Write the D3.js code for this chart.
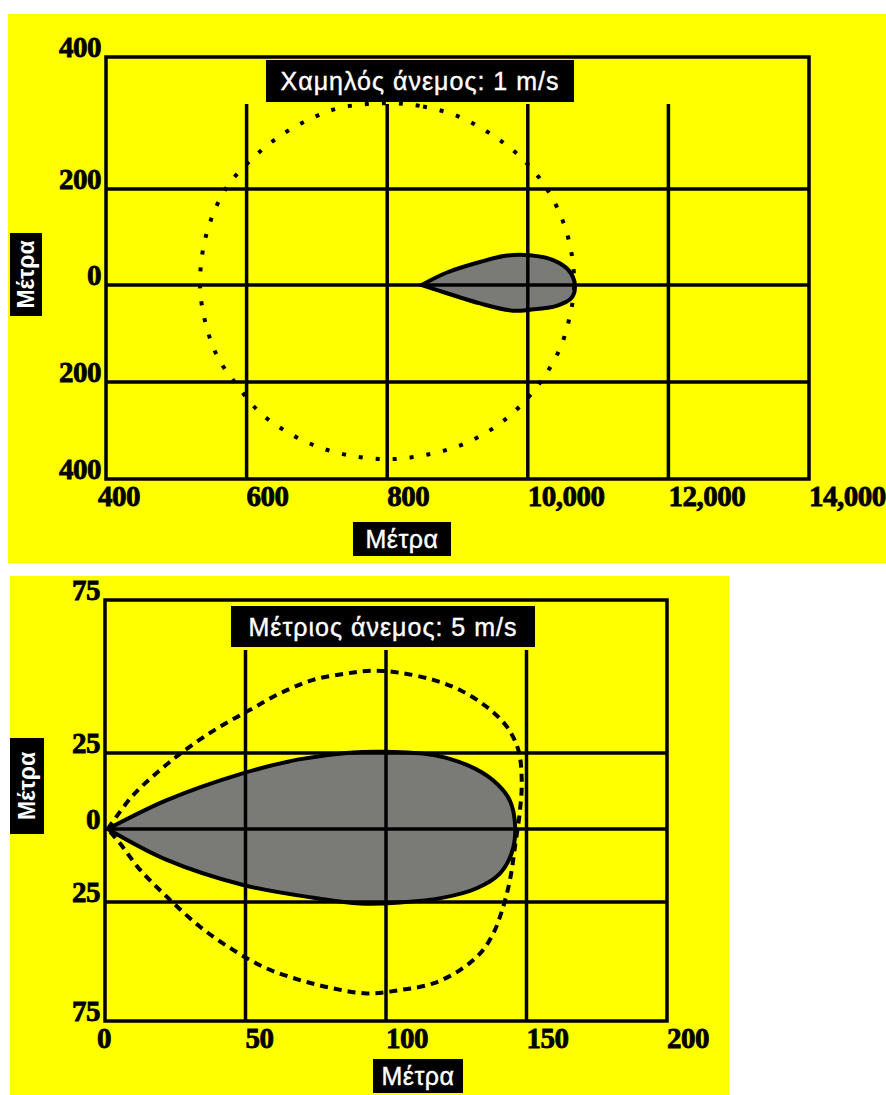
<!DOCTYPE html>
<html>
<head>
<meta charset="utf-8">
<script src="https://cdn.jsdelivr.net/npm/d3@7"></script>
<style>
  html, body { margin: 0; padding: 0; background: #ffffff; overflow: hidden; }
  svg { display: block; }
</style>
</head>
<body>
<svg id="chart" width="886" height="1095"></svg>
<script>
// ---------- Low wind (1 m/s) ----------
const lowTitle = "Χαμηλός άνεμος: 1 m/s";
const lowXTicks = [400, 600, 800, 1000, 1200, 1400];
const lowXTickLabels = ["400", "600", "800", "10,000", "12,000", "14,000"];
const lowYTicks = [400, 200, 0, -200, -400];
const lowYTickLabels = ["400", "200", "0", "200", "400"];
// plume outline: tip -> upper edge -> rounded end -> lower edge (metres)
const lowPlume = [
  [849, 0], [885, 26], [932, 48], [968, 61], [1003, 62], [1036, 52],
  [1058, 31], [1067, 0], [1062, -27], [1041, -43], [1003, -51],
  [979, -53], [932, -38], [885, -17], [849, 0]
];
// dotted envelope (closed contour, metres)
const lowEnvelope = [
  [800, 330], [851, 325], [901, 310], [945, 285], [985, 253], [1019, 213],
  [1044, 154], [1060, 83], [1066, 0], [1060, -63], [1046, -130],
  [1021, -194], [989, -250], [950, -296], [905, -330], [856, -350],
  [807, -359], [757, -354], [708, -337], [661, -306], [619, -263],
  [587, -208], [559, -149], [542, -81], [534, -9], [537, 65], [549, 135],
  [572, 203], [604, 242], [643, 277], [686, 304], [733, 323]
];

// ---------- Moderate wind (5 m/s) ----------
const modTitle = "Μέτριος άνεμος: 5 m/s";
const modXTicks = [0, 50, 100, 150, 200];
const modXTickLabels = ["0", "50", "100", "150", "200"];
const modYTicks = [75, 25, 0, -25, -75];
const modYTickLabels = ["75", "25", "0", "25", "75"];
const modPlume = [
  [1, 0], [22, 9.5], [49, 18.3], [69, 22.9], [87, 25.1], [99, 25.4],
  [117, 24.3], [129, 21], [138, 16.1], [144, 9.5], [146, 0],
  [144.7, -8.3], [140.6, -15.2], [132.3, -20.3], [120.4, -23.5],
  [105, -25.2], [90.7, -25.6], [75.3, -23.7], [49.2, -19.2], [22, -10.6], [1, 0]
];
const modEnvelope = [
  [1, 0], [9.5, 10.6], [19.6, 19.4], [30.2, 27.1], [40.9, 33.6], [51.6, 39.1],
  [62.3, 44.5], [74.1, 48.9], [86, 51], [95.5, 51.9], [105, 51.2],
  [116.8, 48.9], [126.3, 45.6], [135.8, 40.1], [143, 33.6], [147.1, 26],
  [148.3, 16.1], [147.7, 6.3], [145.9, -6.1], [144.1, -17.5], [141.7, -27],
  [138.2, -38.2], [133.5, -46.6], [126.3, -53.6], [116.8, -59.2], [105, -62],
  [93.1, -63.4], [81.2, -61.3], [69.4, -57.8], [57.5, -52.9], [45.7, -45.2],
  [33.8, -35.4], [22, -23.2], [12.5, -14], [5.3, -4.9], [1, 0]
];

const axisName = "Μέτρα";

const svg = d3.select("#chart");

function drawPanel(p) {
  const g = svg.append("g");
  const x = p.x, y = p.y;
  const [x0, x1] = [x(p.xTicks[0]), x(p.xTicks[p.xTicks.length - 1])];
  const [yTop, yBot] = [y(p.yTicks[0]), y(p.yTicks[p.yTicks.length - 1])];

  // yellow backdrop
  g.append("rect")
    .attr("x", p.bg[0]).attr("y", p.bg[1])
    .attr("width", p.bg[2]).attr("height", p.bg[3])
    .attr("fill", "#ffff00");

  // plume
  const plumeLine = d3.line()
    .x(d => x(d[0])).y(d => y(d[1]))
    .curve(d3.curveCatmullRom.alpha(0.5));
  g.append("path")
    .attr("d", plumeLine(p.plume) + "Z")
    .attr("fill", "#7a7b77");

  // grid: horizontal lines at inner y ticks
  g.selectAll(".hgrid")
    .data(p.yTicks.slice(1, -1))
    .join("line")
    .attr("x1", x0).attr("x2", x1)
    .attr("y1", d => y(d)).attr("y2", d => y(d))
    .attr("stroke", "#000").attr("stroke-width", 3.5);

  // grid: vertical lines at inner x ticks
  g.selectAll(".vgrid")
    .data(p.xTicks.slice(1, -1))
    .join("line")
    .attr("x1", d => x(d)).attr("x2", d => x(d))
    .attr("y1", p.vgridTop).attr("y2", yBot)
    .attr("stroke", "#000").attr("stroke-width", 3.5);

  // envelope
  const envLine = d3.line()
    .x(d => x(d[0])).y(d => y(d[1]))
    .curve(p.envClosed ? d3.curveCatmullRomClosed.alpha(0.5) : d3.curveCatmullRom.alpha(0.5));
  g.append("path")
    .attr("d", envLine(p.envelope))
    .attr("fill", "none")
    .attr("stroke", "#000")
    .attr("stroke-width", 4)
    .attr("stroke-dasharray", p.dash);

  // plume outline on top of the grid
  g.append("path")
    .attr("d", plumeLine(p.plume) + "Z")
    .attr("fill", "none")
    .attr("stroke", "#000")
    .attr("stroke-width", 4);

  // frame
  g.append("rect")
    .attr("x", x0).attr("y", yTop)
    .attr("width", x1 - x0).attr("height", yBot - yTop)
    .attr("fill", "none")
    .attr("stroke", "#000").attr("stroke-width", 3.5);

  // tick labels
  const tickFont = { family: "'Liberation Serif', 'Times New Roman', serif", size: 29 };
  g.selectAll(".ylab")
    .data(p.yTicks)
    .join("text")
    .attr("x", x0 - 5)
    .attr("y", d => y(d))
    .attr("text-anchor", "end")
    .attr("font-family", tickFont.family)
    .attr("font-size", tickFont.size)
    .attr("font-weight", "bold")
    .attr("letter-spacing", -0.5)
    .attr("fill", "#000")
    .attr("stroke", "#000")
    .attr("stroke-width", 0.8)
    .text((d, i) => p.yLabels[i]);

  g.selectAll(".xlab")
    .data(p.xTicks)
    .join("text")
    .attr("x", (d, i) => x(d) + (i === 0 ? -8 : 0))
    .attr("y", yBot + 27)
    .attr("text-anchor", "start")
    .attr("font-family", tickFont.family)
    .attr("font-size", tickFont.size)
    .attr("font-weight", "bold")
    .attr("letter-spacing", -0.5)
    .attr("fill", "#000")
    .attr("stroke", "#000")
    .attr("stroke-width", 0.8)
    .text((d, i) => p.xLabels[i]);

  // title box
  const tb = p.titleBox;
  g.append("rect")
    .attr("x", tb[0]).attr("y", tb[1]).attr("width", tb[2]).attr("height", tb[3])
    .attr("fill", "#000");
  g.append("text")
    .attr("x", tb[0] + tb[2] / 2)
    .attr("y", tb[1] + tb[3] / 2 + 9)
    .attr("text-anchor", "middle")
    .attr("font-family", "'Liberation Sans', Arial, sans-serif")
    .attr("font-size", 25)
    .attr("letter-spacing", 1)
    .attr("fill", "#fff")
    .attr("stroke", "#fff")
    .attr("stroke-width", 0.4)
    .text(p.title);

  // x axis name
  const xb = p.xNameBox;
  g.append("rect")
    .attr("x", xb[0]).attr("y", xb[1]).attr("width", xb[2]).attr("height", xb[3])
    .attr("fill", "#000");
  g.append("text")
    .attr("x", xb[0] + xb[2] / 2)
    .attr("y", xb[1] + xb[3] / 2 + 9)
    .attr("text-anchor", "middle")
    .attr("font-family", "'Liberation Sans', Arial, sans-serif")
    .attr("font-size", 25)
    .attr("letter-spacing", 0.5)
    .attr("fill", "#fff")
    .attr("stroke", "#fff")
    .attr("stroke-width", 0.4)
    .text(axisName);

  // y axis name (rotated)
  const yb = p.yNameBox;
  g.append("rect")
    .attr("x", yb[0]).attr("y", yb[1]).attr("width", yb[2]).attr("height", yb[3])
    .attr("fill", "#000");
  const cx = yb[0] + yb[2] / 2, cy = yb[1] + yb[3] / 2;
  g.append("text")
    .attr("transform", `translate(${cx + 8},${cy}) rotate(-90)`)
    .attr("text-anchor", "middle")
    .attr("font-family", "'Liberation Sans', Arial, sans-serif")
    .attr("font-size", 23)
    .attr("font-weight", "bold")
    .attr("fill", "#fff")
    .text(axisName);
}

drawPanel({
  x: d3.scaleLinear().domain([400, 1400]).range([106, 809]),
  y: d3.scaleLinear().domain([400, 200, 0, -200, -400]).range([57, 189, 285, 382, 479]),
  xTicks: lowXTicks, xLabels: lowXTickLabels,
  yTicks: lowYTicks, yLabels: lowYTickLabels,
  plume: lowPlume, envelope: lowEnvelope, envClosed: true,
  dash: "4 13",
  vgridTop: 104,
  bg: [8, 14, 878, 549],
  title: lowTitle,
  titleBox: [266, 60, 308, 42],
  xNameBox: [353, 522, 98, 34],
  yNameBox: [10, 233, 32, 83]
});

drawPanel({
  x: d3.scaleLinear().domain([0, 200]).range([105, 667]),
  y: d3.scaleLinear().domain([75, 25, 0, -25, -75]).range([600, 753, 829, 902, 1021]),
  xTicks: modXTicks, xLabels: modXTickLabels,
  yTicks: modYTicks, yLabels: modYTickLabels,
  plume: modPlume, envelope: modEnvelope, envClosed: false,
  dash: "8 6",
  vgridTop: 650,
  bg: [10, 576, 719, 519],
  title: modTitle,
  titleBox: [231, 606, 304, 41],
  xNameBox: [373, 1059, 90, 34],
  yNameBox: [10, 738, 34, 96]
});
</script>
</body>
</html>
